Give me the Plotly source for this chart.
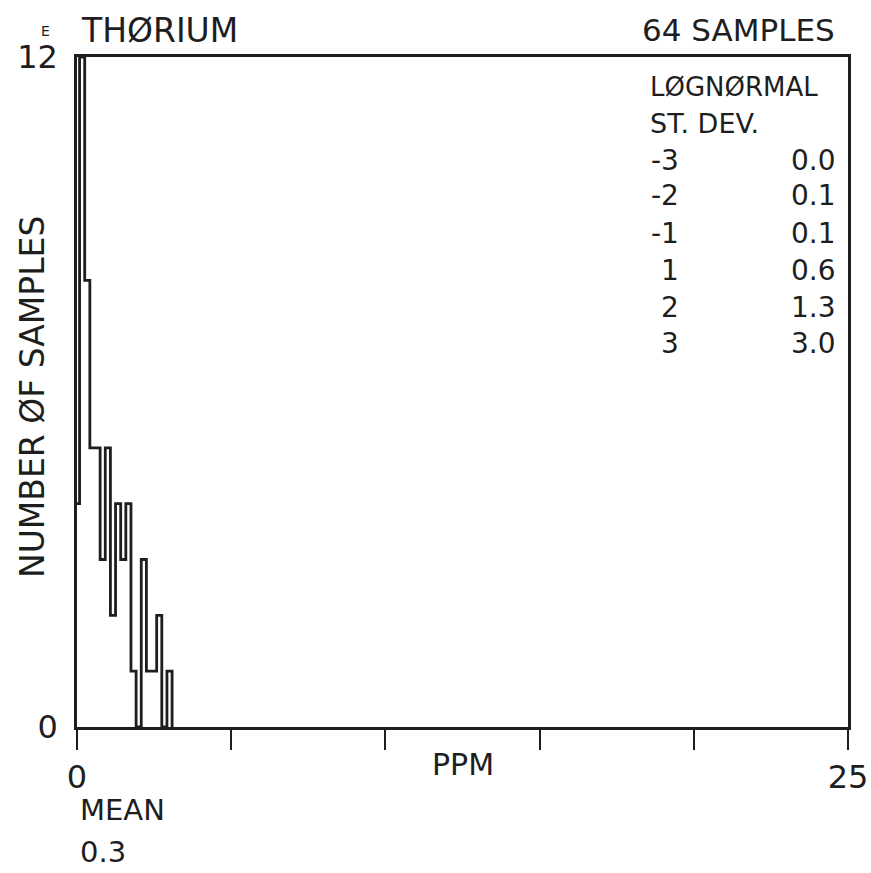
import plotly.graph_objects as go

# ---- data ----
bin_width = 1 / 6  # ppm, bins centred on multiples of bin_width
counts = [4, 12, 8, 5, 5, 3, 5, 2, 4, 3, 4, 1, 0, 3, 1, 1, 2, 0, 1]
x_range = [0, 25]
y_range = [0, 12]
x_tickvals = [0, 5, 10, 15, 20, 25]
x_ticktext = ["0", "", "", "", "", "25"]
y_tickvals = [0, 12]
y_ticktext = ["0", "12"]
sd_levels = ["-3", "-2", "-1", "1", "2", "3"]
sd_values = ["0.0", "0.1", "0.1", "0.6", "1.3", "3.0"]
element = "THØRIUM"
n_samples = "64 SAMPLES"
mean_value = "0.3"

# ---- build step outline ----
edges = [(k - 0.5) * bin_width for k in range(len(counts) + 1)]
xs = [edges[0]] + edges
ys = [0] + counts + [0]

INK = "#1e1e1e"
FONT = "DejaVu Sans"

W, H = 871, 873
L, R, T, B = 77, 23, 57, 146
PW, PH = W - L - R, H - T - B


def at(xp, yp):
    return dict(x=(xp - L) / PW, y=(H - B - yp) / PH, xref="paper", yref="paper")


fig = go.Figure()
fig.add_trace(go.Scatter(
    x=xs, y=ys, mode="lines", line=dict(shape="hv", color=INK, width=2.8),
    hoverinfo="skip", showlegend=False,
))

annotations = []


def text(s, xp, yp, size, xa="left", ya="middle", angle=0):
    a = at(xp, yp)
    a.update(text=s, showarrow=False, xanchor=xa, yanchor=ya, textangle=angle,
             font=dict(family=FONT, size=size, color=INK))
    annotations.append(a)


text("E", 39, 31, 14)
text(element, 79, 30, 33)
text(n_samples, 837, 30, 31, xa="right")
text("LØGNØRMAL", 648, 87, 26)
text("ST. DEV.", 648, 124, 27)
row_y = [160, 196, 233, 270, 307, 343]
for lvl, val, yy in zip(sd_levels, sd_values, row_y):
    text(lvl, 681, yy, 28, xa="right")
    text(val, 838, yy, 28, xa="right")
text("PPM", 463, 764, 30, xa="center")
text("MEAN", 78, 810, 29)
text(mean_value, 78, 852, 29)
text("NUMBER ØF SAMPLES", 32, 397, 33, xa="center", angle=-90)

fig.update_layout(
    width=W, height=H,
    margin=dict(l=L, r=R, t=T, b=B, autoexpand=False),
    paper_bgcolor="white", plot_bgcolor="white",
    annotations=annotations,
    xaxis=dict(range=x_range, tickvals=x_tickvals, ticktext=x_ticktext,
               ticks="outside", ticklen=20, tickwidth=2, tickcolor=INK,
               showline=True, linecolor=INK, linewidth=2.5, mirror=True,
               showgrid=False, zeroline=False, automargin=False,
               tickfont=dict(family=FONT, size=32, color=INK)),
    yaxis=dict(range=y_range, tickvals=y_tickvals, ticktext=y_ticktext,
               ticks="", showline=True, linecolor=INK, linewidth=2.5, mirror=True,
               showgrid=False, zeroline=False, ticklabelstandoff=10, automargin=False,
               tickfont=dict(family=FONT, size=32, color=INK)),
)

fig.write_html("out.html", config={"displayModeBar": False},
               post_script="document.body.style.margin='0';")
